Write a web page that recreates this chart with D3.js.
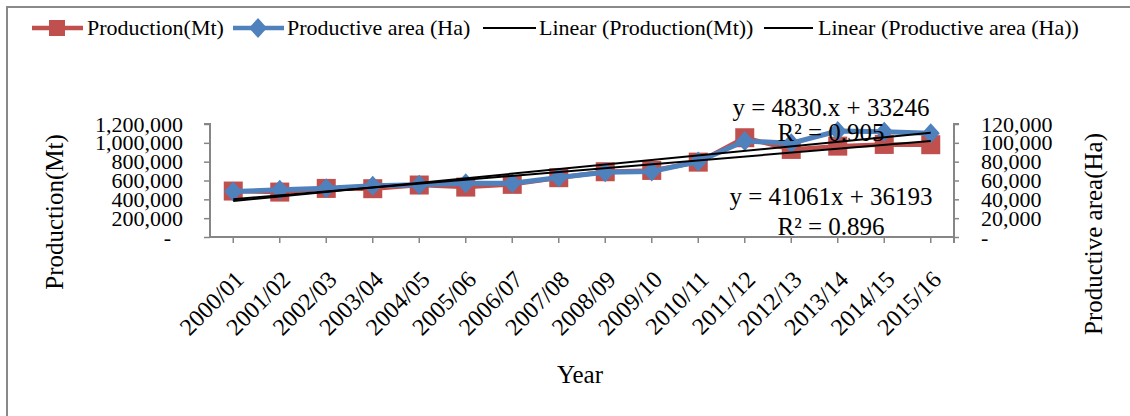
<!DOCTYPE html>
<html><head><meta charset="utf-8">
<script src="https://cdn.jsdelivr.net/npm/d3@7"></script>
<style>
body{margin:0;background:#fff;overflow:hidden}
text{font-family:"Liberation Serif","Times New Roman",serif;fill:#000}
</style>
</head><body>
<svg id="c" width="1130" height="416"></svg>
<script>
// ---- data ----
const years = ["2000/01","2001/02","2002/03","2003/04","2004/05","2005/06","2006/07","2007/08",
               "2008/09","2009/10","2010/11","2011/12","2012/13","2013/14","2014/15","2015/16"];
const production = [488000,477000,516000,513000,552000,530000,559000,630000,
                    693000,707000,795000,1054000,930000,965000,983000,980000];
const area = [48300,50100,51900,54300,55400,57200,57200,63100,
              68800,69500,80100,102000,99600,112500,111900,110100];
const leftTicks = [0,200000,400000,600000,800000,1000000,1200000];
const rightTicks = [0,20000,40000,60000,80000,100000,120000];
const legendLabels = ["Production(Mt)","Productive area (Ha)","Linear (Production(Mt))","Linear (Productive area (Ha))"];
const eqArea = ["y = 4830.x + 33246","R² = 0.905"];
const eqProd = ["y = 41061x + 36193","R² = 0.896"];
const xTitle = "Year", yLeftTitle = "Production(Mt)", yRightTitle = "Productive area(Ha)";

// ---- layout ----
const L = 210, R = 954, T = 124, B = 237;
const RED = "#C0504D", BLUE = "#4F81BD", AX = "#868686";
const svg = d3.select("#c");

// outer chart border
svg.append("rect").attr("x",7).attr("y",7).attr("width",1200).attr("height",600)
  .attr("fill","none").attr("stroke","#898989").attr("stroke-width",2);

const x = d3.scaleBand().domain(years).range([L,R]).padding(0);
const cx = d => x(d) + x.bandwidth()/2;
const yL = d3.scaleLinear().domain([0,1200000]).range([B,T]);
const yR = d3.scaleLinear().domain([0,120000]).range([B,T]);
const fmt = v => v === 0 ? "-" : d3.format(",")(v);

// left axis
const gl = svg.append("g").attr("transform",`translate(${L},0)`)
  .call(d3.axisLeft(yL).tickValues(leftTicks).tickFormat(fmt).tickSize(6).tickPadding(21));
gl.selectAll("text").attr("font-size",22).attr("dy","0.32em").attr("dx",d=>d===0?-12:0);
// right axis
const gr = svg.append("g").attr("transform",`translate(${R},0)`)
  .call(d3.axisRight(yR).tickValues(rightTicks).tickFormat(fmt).tickSize(5).tickPadding(22));
gr.selectAll("text").attr("font-size",22).attr("dy","0.32em");
// bottom axis
const gb = svg.append("g").attr("transform",`translate(0,${B})`)
  .call(d3.axisBottom(x).tickSize(6).tickFormat(""));
gb.selectAll(".tick").attr("transform", d => `translate(${cx(d)},0)`);
[gl,gr,gb].forEach(g=>{
  g.select(".domain").attr("stroke",AX).attr("stroke-width",2);
  g.selectAll(".tick line").attr("stroke",AX).attr("stroke-width",1.5);
  g.selectAll("text").attr("font-family","Liberation Serif").attr("fill","#000");
});
gl.select(".domain").attr("d",`M-6,${T}H0V${B}`);
gr.select(".domain").attr("d",`M5,${T}H0V${B}`);
gb.select(".domain").attr("d",`M${L},0H${R}V6`);

// x labels
svg.append("g").selectAll("text").data(years).join("text")
  .attr("transform", d => `translate(${cx(d)+12},281) rotate(-45)`)
  .attr("text-anchor","end").attr("font-size",24).text(d=>d);

// series
const lineL = d3.line().x((d,i)=>cx(years[i])).y(d=>yL(d));
const lineR = d3.line().x((d,i)=>cx(years[i])).y(d=>yR(d));
svg.append("path").datum(production).attr("d",lineL).attr("fill","none").attr("stroke",RED).attr("stroke-width",4.5);
svg.append("g").selectAll("rect").data(production).join("rect")
  .attr("x",(d,i)=>cx(years[i])-9.5).attr("y",d=>yL(d)-9.5).attr("width",19).attr("height",19).attr("fill",RED);
svg.append("path").datum(area).attr("d",lineR).attr("fill","none").attr("stroke",BLUE).attr("stroke-width",5);
const diamond = (px,py)=>`M${px},${py-10}L${px+9},${py}L${px},${py+10}L${px-9},${py}Z`;
svg.append("g").selectAll("path").data(area).join("path")
  .attr("d",(d,i)=>diamond(cx(years[i]),yR(d))).attr("fill",BLUE);

// linear trend lines (least squares, x = 1..n)
function fit(vals){
  const xs = vals.map((v,i)=>i+1);
  const mx = d3.mean(xs), my = d3.mean(vals);
  const s = d3.sum(xs.map((xi,i)=>(xi-mx)*(vals[i]-my))) / d3.sum(xs.map(xi=>(xi-mx)**2));
  return [s, my - s*mx];
}
function trend(vals, scale){
  const [s,b] = fit(vals), n = vals.length;
  svg.append("line").attr("x1",cx(years[0])).attr("y1",scale(s*1+b))
    .attr("x2",cx(years[n-1])).attr("y2",scale(s*n+b))
    .attr("stroke","#000").attr("stroke-width",2);
}
trend(production, yL);
trend(area, yR);

// equations
svg.append("g").selectAll("text").data(eqArea).join("text")
  .attr("x",831).attr("y",(d,i)=>116+i*25).attr("text-anchor","middle").attr("font-size",25).text(d=>d);
svg.append("g").selectAll("text").data(eqProd).join("text")
  .attr("x",831).attr("y",(d,i)=>205+i*30).attr("text-anchor","middle").attr("font-size",25).text(d=>d);

// axis titles
svg.append("text").attr("transform","translate(63,212) rotate(-90)").attr("text-anchor","middle")
  .attr("font-size",25).text(yLeftTitle);
svg.append("text").attr("transform","translate(1102,234) rotate(-90)").attr("text-anchor","middle")
  .attr("font-size",25).text(yRightTitle);
svg.append("text").attr("x",580).attr("y",383).attr("text-anchor","middle").attr("font-size",25).text(xTitle);

// legend
const lg = svg.append("g");
const LY = 28;
lg.append("line").attr("x1",32).attr("x2",83).attr("y1",LY).attr("y2",LY).attr("stroke",RED).attr("stroke-width",4.5);
lg.append("rect").attr("x",57-8).attr("y",LY-8).attr("width",16).attr("height",16).attr("fill",RED);
lg.append("text").attr("x",87).attr("y",LY+7).attr("font-size",22).text(legendLabels[0]);
lg.append("line").attr("x1",233).attr("x2",284).attr("y1",LY).attr("y2",LY).attr("stroke",BLUE).attr("stroke-width",4.5);
lg.append("path").attr("d",diamond(258,LY)).attr("fill",BLUE);
lg.append("text").attr("x",287).attr("y",LY+7).attr("font-size",22).text(legendLabels[1]);
lg.append("line").attr("x1",483).attr("x2",536).attr("y1",LY).attr("y2",LY).attr("stroke","#000").attr("stroke-width",2);
lg.append("text").attr("x",539).attr("y",LY+7).attr("font-size",22).text(legendLabels[2]);
lg.append("line").attr("x1",764).attr("x2",813).attr("y1",LY).attr("y2",LY).attr("stroke","#000").attr("stroke-width",2);
lg.append("text").attr("x",818).attr("y",LY+7).attr("font-size",22).text(legendLabels[3]);
</script>
</body></html>
